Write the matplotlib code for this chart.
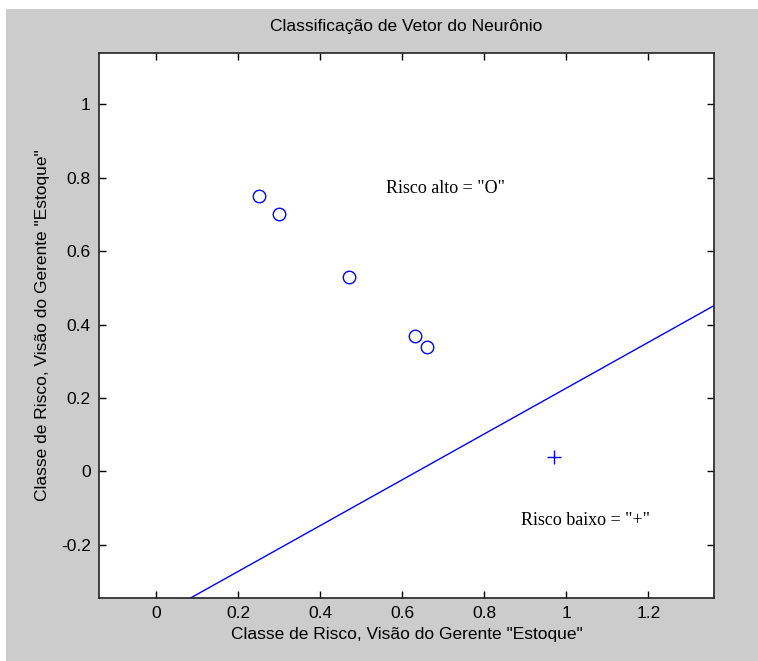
import matplotlib
matplotlib.use("Agg")
import matplotlib.pyplot as plt
import numpy as np
from matplotlib.patches import Rectangle

# Data
high_x = [0.25, 0.30, 0.47, 0.63, 0.66]
high_y = [0.75, 0.70, 0.53, 0.37, 0.34]
low_x = [0.97]
low_y = [0.04]
# decision boundary: w1*x + w2*y + b = 0
weights = [0.624, -1.0]
bias = -0.397
xlim = [-0.14, 1.36]
ylim = [-0.345, 1.14]
xticks = [0, 0.2, 0.4, 0.6, 0.8, 1, 1.2]
yticks = [-0.2, 0, 0.2, 0.4, 0.6, 0.8, 1]
title = "Classificação de Vetor do Neurônio"
xlabel = 'Classe de Risco, Visão do Gerente "Estoque"'
ylabel = 'Classe de Risco, Visão do Gerente "Estoque"'
txt_high = 'Risco alto = "O"'
txt_low = 'Risco baixo = "+"'

W, H = 758, 661
fig = plt.figure(figsize=(W / 100, H / 100), dpi=100, facecolor="white")
fig.patches.append(Rectangle((6 / W, 0), 1, 1 - 9 / H, transform=fig.transFigure,
                             facecolor="#cccccc", edgecolor="none", zorder=-10))

sans = ["Liberation Sans Narrow", "Liberation Sans", "DejaVu Sans"]
serif = ["Liberation Serif", "DejaVu Serif"]

ax = fig.add_axes([99 / W, 1 - 598 / H, (714 - 99) / W, (598 - 53) / H])
ax.set_facecolor("white")

ax.plot(high_x, high_y, linestyle="none", marker="o", ms=9, mfc="none",
        mec="#0000ff", mew=1.0)
ax.plot(low_x, low_y, linestyle="none", marker="+", ms=10, mec="#0000ff", mew=1.0)

lx = np.array(xlim)
ly = -(weights[0] * lx + bias) / weights[1]
ax.plot(lx, ly, color="#0000ff", lw=1.0)

ax.set_xlim(xlim)
ax.set_ylim(ylim)
ax.set_xticks(xticks)
ax.set_yticks(yticks)
ax.set_xticklabels([f"{t:g}" for t in xticks], fontfamily=sans, fontsize=12.5)
ax.set_yticklabels([f"{t:g}" for t in yticks], fontfamily=sans, fontsize=12.5)
ax.tick_params(direction="in", length=5, width=1, top=True, right=True,
               colors="black", pad=6)
for s in ax.spines.values():
    s.set_linewidth(1.2)
    s.set_color("#222222")

ax.text(0.561, 0.771, txt_high, fontfamily=serif, fontsize=13, va="center", ha="left")
ax.text(0.89, -0.134, txt_low, fontfamily=serif, fontsize=13, va="center", ha="left")

fig.text(406 / W, 1 - 27 / H, title, fontfamily=sans, fontsize=12.5, ha="center", va="center")
ax.set_xlabel(xlabel, fontfamily=sans, fontsize=12.5, labelpad=4)
ax.set_ylabel(ylabel, fontfamily=sans, fontsize=12.5, labelpad=8)

fig.savefig("out.png", dpi=100, facecolor=fig.get_facecolor())
